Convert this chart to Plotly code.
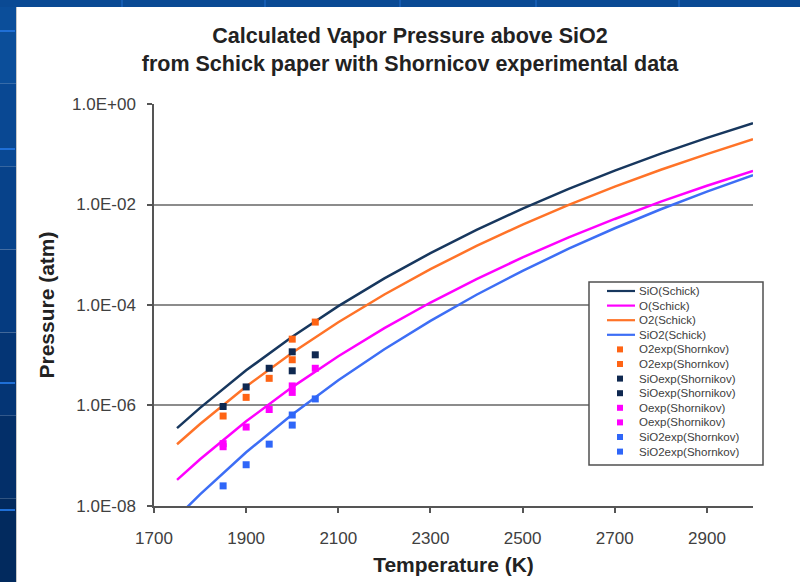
import plotly.graph_objects as go

# ---------------- data ----------------
T_calc = [1750, 1800, 1900, 2000, 2100, 2200, 2300, 2400, 2500, 2600, 2700, 2800, 2900, 3000]
p_SiO = [3.54e-7, 8.97e-7, 5.00e-6, 2.34e-5, 9.48e-5, 3.38e-4, 1.08e-3, 3.13e-3, 8.32e-3, 2.05e-2, 4.74e-2, 0.103, 0.212, 0.417]
p_O = [3.31e-8, 8.51e-8, 4.84e-7, 2.32e-6, 9.55e-6, 3.46e-5, 1.12e-4, 3.29e-4, 8.87e-4, 2.21e-3, 5.16e-3, 1.14e-2, 2.36e-2, 4.68e-2]
p_O2 = [1.69e-7, 4.29e-7, 2.39e-6, 1.12e-5, 4.54e-5, 1.62e-4, 5.17e-4, 1.50e-3, 3.98e-3, 9.81e-3, 2.27e-2, 4.93e-2, 0.101, 0.200]
p_SiO2 = [5.98e-9, 1.70e-8, 1.17e-7, 6.61e-7, 3.17e-6, 1.32e-5, 4.84e-5, 1.60e-4, 4.79e-4, 1.32e-3, 3.37e-3, 8.05e-3, 1.81e-2, 3.86e-2]

T_O2exp_a = [1850, 1900, 1950, 2000]
p_O2exp_a = [6.17e-7, 1.45e-6, 3.47e-6, 8.13e-6]
T_O2exp_b = [2000, 2050]
p_O2exp_b = [2.09e-5, 4.57e-5]

T_SiOexp_a = [1850, 1900, 1950, 2000]
p_SiOexp_a = [9.55e-7, 2.34e-6, 5.50e-6, 1.17e-5]
T_SiOexp_b = [2000, 2050]
p_SiOexp_b = [4.90e-6, 1.02e-5]

T_Oexp_a = [1850, 1900, 1950, 2000]
p_Oexp_a = [1.51e-7, 3.72e-7, 8.32e-7, 2.45e-6]
T_Oexp_b = [1850, 2000, 2050]
p_Oexp_b = [1.74e-7, 1.82e-6, 5.50e-6]

T_SiO2exp_a = [1850, 1900, 1950, 2000]
p_SiO2exp_a = [2.51e-8, 6.61e-8, 1.70e-7, 6.46e-7]
T_SiO2exp_b = [2000, 2050]
p_SiO2exp_b = [4.07e-7, 1.35e-6]

y_tickvals = [1e-8, 1e-6, 1e-4, 1e-2, 1]
y_ticktext = ["1.0E-08", "1.0E-06", "1.0E-04", "1.0E-02", "1.0E+00"]
x_tickvals = [1700, 1900, 2100, 2300, 2500, 2700, 2900]

legend_labels = ["SiO(Schick)", "O(Schick)", "O2(Schick)", "SiO2(Schick)",
                 "O2exp(Shornkov)", "O2exp(Shornkov)",
                 "SiOexp(Shornikov)", "SiOexp(Shornikov)",
                 "Oexp(Shornikov)", "Oexp(Shornikov)",
                 "SiO2exp(Shornkov)", "SiO2exp(Shornkov)"]

# ---------------- styles ----------------
C_SIO = "#17375e"
C_O = "#ff00ff"
C_O2 = "#ff7328"
C_SIO2 = "#3d6ef5"
M_O2 = "#ff6414"
M_SIO = "#0f2850"
M_O = "#ff00ff"
M_SIO2 = "#2f66f8"
FONT = "Liberation Sans, Arial, sans-serif"

W, H = 800, 582
L, R, TOP, B = 154, 47, 104, 76
PW, PH = W - L - R, H - TOP - B


def px_x(px):
    return (px - L) / PW


def px_y(py):
    return (H - B - py) / PH


fig = go.Figure()

lines = [(p_SiO, C_SIO, "SiO(Schick)"), (p_O, C_O, "O(Schick)"),
         (p_O2, C_O2, "O2(Schick)"), (p_SiO2, C_SIO2, "SiO2(Schick)")]
for vals, col, name in lines:
    fig.add_trace(go.Scatter(x=T_calc, y=vals, mode="lines", name=name,
                             line=dict(color=col, width=2.5), showlegend=False))

exp_series = [
    (T_O2exp_a, p_O2exp_a, M_O2, "O2exp(Shornkov)"),
    (T_O2exp_b, p_O2exp_b, M_O2, "O2exp(Shornkov)"),
    (T_SiOexp_a, p_SiOexp_a, M_SIO, "SiOexp(Shornikov)"),
    (T_SiOexp_b, p_SiOexp_b, M_SIO, "SiOexp(Shornikov)"),
    (T_Oexp_a, p_Oexp_a, M_O, "Oexp(Shornikov)"),
    (T_Oexp_b, p_Oexp_b, M_O, "Oexp(Shornikov)"),
    (T_SiO2exp_a, p_SiO2exp_a, M_SIO2, "SiO2exp(Shornkov)"),
    (T_SiO2exp_b, p_SiO2exp_b, M_SIO2, "SiO2exp(Shornkov)"),
]
for tx, py, col, name in exp_series:
    fig.add_trace(go.Scatter(x=tx, y=py, mode="markers", name=name,
                             marker=dict(symbol="square", size=7, color=col),
                             showlegend=False))

shapes = []
annotations = []

# slide frame (blue strips)
band_cols = ["#0b4e9a", "#094893", "#07428a", "#053b80", "#043575", "#032f69", "#022a5e"]
nb = len(band_cols)
for i, c in enumerate(band_cols):
    y0 = i * H / nb
    y1 = (i + 1) * H / nb
    shapes.append(dict(type="rect", xref="paper", yref="paper",
                       x0=px_x(0), x1=px_x(16), y0=px_y(y1), y1=px_y(y0),
                       fillcolor=c, line=dict(width=0), layer="below"))
shapes.append(dict(type="rect", xref="paper", yref="paper",
                   x0=px_x(0), x1=px_x(W), y0=px_y(7), y1=px_y(0),
                   fillcolor="#0a4a94", line=dict(width=0), layer="below"))
for yy in [31, 149, 383, 510]:
    shapes.append(dict(type="line", xref="paper", yref="paper",
                       x0=px_x(0), x1=px_x(15), y0=px_y(yy), y1=px_y(yy),
                       line=dict(color="#1f6fd6", width=2), layer="below"))
for xx in [122, 265, 400, 536, 679]:
    shapes.append(dict(type="line", xref="paper", yref="paper",
                       x0=px_x(xx), x1=px_x(xx), y0=px_y(7), y1=px_y(0),
                       line=dict(color="#155bb0", width=2), layer="below"))
# thin shadow along white panel edge
shapes.append(dict(type="line", xref="paper", yref="paper",
                   x0=px_x(16.5), x1=px_x(16.5), y0=px_y(H), y1=px_y(7),
                   line=dict(color="#c8c8c8", width=1), layer="below"))

# custom legend
lx0, lx1, ly0, ly1 = 589, 763, 282, 465
shapes.append(dict(type="rect", xref="paper", yref="paper",
                   x0=px_x(lx0), x1=px_x(lx1), y0=px_y(ly1), y1=px_y(ly0),
                   fillcolor="white", line=dict(color="#505050", width=1.5), layer="above"))
legend_kinds = [("line", C_SIO), ("line", C_O), ("line", C_O2), ("line", C_SIO2),
                ("sq", M_O2), ("sq", M_O2), ("sq", M_SIO), ("sq", M_SIO),
                ("sq", M_O), ("sq", M_O), ("sq", M_SIO2), ("sq", M_SIO2)]
for i, (lab, (kind, col)) in enumerate(zip(legend_labels, legend_kinds)):
    ry = 291 + i * 14.6
    if kind == "line":
        shapes.append(dict(type="line", xref="paper", yref="paper",
                           x0=px_x(607), x1=px_x(635), y0=px_y(ry), y1=px_y(ry),
                           line=dict(color=col, width=2.2), layer="above"))
    else:
        shapes.append(dict(type="rect", xref="paper", yref="paper",
                           x0=px_x(617), x1=px_x(623), y0=px_y(ry + 3), y1=px_y(ry - 3),
                           fillcolor=col, line=dict(width=0), layer="above"))
    annotations.append(dict(x=px_x(637), y=px_y(ry), xref="paper", yref="paper",
                            text=lab, showarrow=False, xanchor="left", yanchor="middle",
                            font=dict(family=FONT, size=11.5, color="#404040")))

fig.update_layout(
    width=W, height=H,
    margin=dict(l=L, r=R, t=TOP, b=B, autoexpand=False),
    paper_bgcolor="white", plot_bgcolor="white",
    showlegend=False,
    title=dict(text="Calculated Vapor Pressure above SiO2<br>from Schick paper with Shornicov experimental data",
               x=410 / W, xanchor="center", xref="container",
               y=1 - 43 / H, yanchor="top", yref="container",
               font=dict(family=FONT, size=21.5, color="#222222", weight="bold")),
    shapes=shapes,
    annotations=annotations,
    font=dict(family=FONT),
)

fig.update_xaxes(
    range=[1700, 3000], tickvals=x_tickvals, ticks="outside", ticklen=5,
    tickcolor="#555555", tickwidth=1.5, showline=True, linecolor="#555555", linewidth=1.5,
    showgrid=False, zeroline=False, ticklabelstandoff=11,
    tickfont=dict(family=FONT, size=17, color="#404040"),
    title=dict(text="Temperature (K)", standoff=10,
               font=dict(family=FONT, size=21, color="#222222", weight="bold")),
)
fig.update_yaxes(
    type="log", range=[-8.001, 0.001], tickvals=y_tickvals, ticktext=y_ticktext,
    ticks="outside", ticklen=5, tickcolor="#555555", tickwidth=1.5,
    showline=True, linecolor="#555555", linewidth=1.5,
    showgrid=True, gridcolor="#8c8c8c", gridwidth=2, zeroline=False,
    ticklabelstandoff=8,
    tickfont=dict(family=FONT, size=17, color="#404040"),
    title=dict(text="Pressure (atm)", standoff=12,
               font=dict(family=FONT, size=21, color="#222222", weight="bold")),
)

fig.write_html("out.html",
               config={"displayModeBar": False},
               post_script="document.body.style.margin='0';document.body.style.overflow='hidden';")
